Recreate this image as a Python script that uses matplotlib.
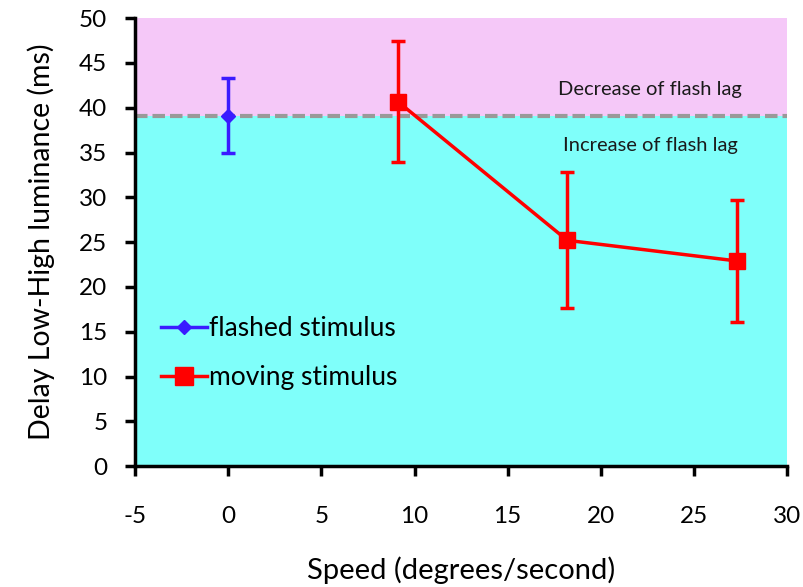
import matplotlib
matplotlib.use("Agg")
import matplotlib.pyplot as plt
from matplotlib.lines import Line2D

# Data
flash_x = [0]
flash_y = [39.1]
flash_err = [4.2]

move_x = [9.1, 18.2, 27.3]
move_y = [40.7, 25.2, 22.9]
move_err = [6.7, 7.6, 6.8]

threshold = 39.1
xlim = (-5, 30)
ylim = (0, 50)
xticks = [-5, 0, 5, 10, 15, 20, 25, 30]
yticks = [0, 5, 10, 15, 20, 25, 30, 35, 40, 45, 50]

plt.rcParams['font.family'] = ['Lato', 'DejaVu Sans']

fig = plt.figure(figsize=(8.04, 5.87), dpi=100)
ax = fig.add_axes([0.168, 0.206, 0.811, 0.763])

ax.axhspan(threshold, ylim[1], color='#F5C8F8', zorder=0, lw=0)
ax.axhspan(ylim[0], threshold, color='#7FFFFA', zorder=0, lw=0)
ax.axhline(threshold, color='#999999', lw=3, ls=(0, (3, 1.2)), zorder=1)

blue = '#3A1BFF'
red = '#FF0000'
ax.errorbar(flash_x, flash_y, yerr=flash_err, color=blue, marker='D', ms=7,
            lw=2.5, elinewidth=2.5, capsize=5, capthick=2.5, zorder=3)
ax.errorbar(move_x, move_y, yerr=move_err, color=red, marker='s', ms=12,
            lw=2.5, elinewidth=2.5, capsize=5, capthick=2.5, zorder=3)

ax.text(22.65, 42.0, 'Decrease of flash lag', ha='center', va='center', fontsize=14.5, color='#1a1a1a')
ax.text(22.65, 35.8, 'Increase of flash lag', ha='center', va='center', fontsize=14.5, color='#1a1a1a')

ax.set_xlim(*xlim)
ax.set_ylim(*ylim)
ax.set_xticks(xticks)
ax.set_yticks(yticks)
ax.set_xticklabels([str(t) for t in xticks])
ax.tick_params(axis='both', labelsize=17.5, width=2.5, length=7, direction='out')
ax.tick_params(axis='x', pad=22)
ax.tick_params(axis='y', pad=13)
for s in ['top', 'right']:
    ax.spines[s].set_visible(False)
for s in ['left', 'bottom']:
    ax.spines[s].set_linewidth(2.5)

ax.set_xlabel('Speed (degrees/second)', fontsize=21, labelpad=21)
ax.set_ylabel('Delay Low-High luminance (ms)', fontsize=20.5, labelpad=17)

handles = [Line2D([], [], color=blue, marker='D', ms=7, lw=2.5),
           Line2D([], [], color=red, marker='s', ms=13, lw=2.5)]
labels = ['flashed stimulus', 'moving stimulus']
ax.legend(handles, labels, loc='upper left', bbox_to_anchor=(0.04, 0.335), frameon=False,
          fontsize=19, handlelength=1.75, handletextpad=0.05, labelspacing=0.9, borderpad=0,
          borderaxespad=0)

fig.savefig('out.png', dpi=100)
